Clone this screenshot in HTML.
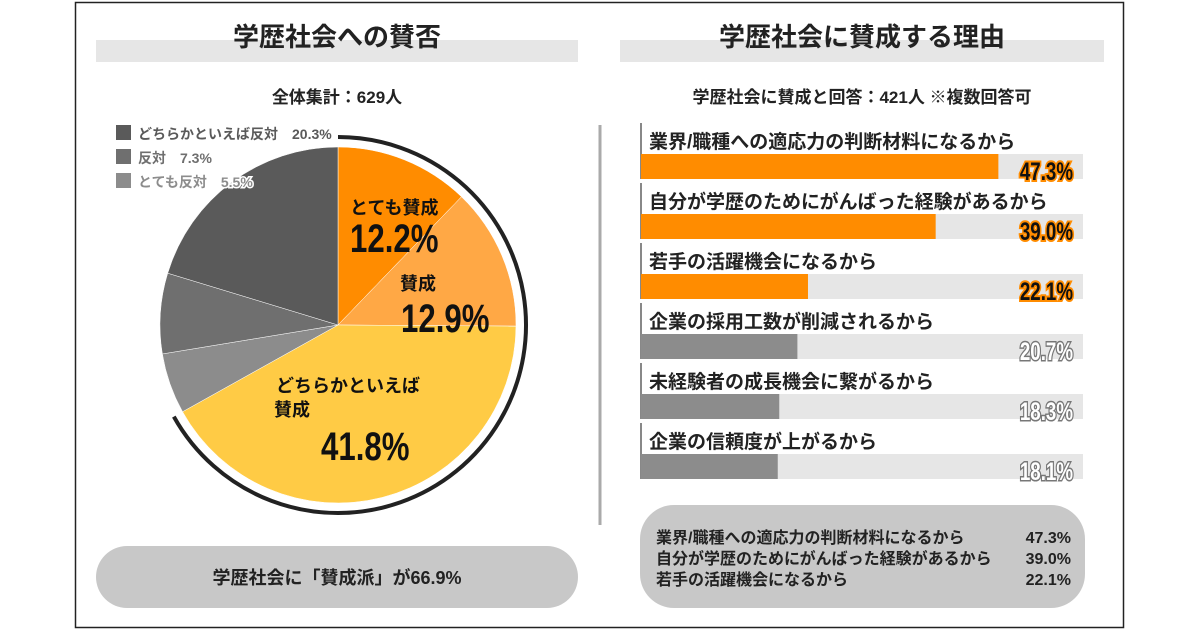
<!DOCTYPE html>
<html><head><meta charset="utf-8">
<style>
html,body{margin:0;padding:0;background:#fff;}
body{width:1200px;height:630px;overflow:hidden;font-family:"Liberation Sans","Noto Sans CJK JP",sans-serif;}
svg text{font-family:"Liberation Sans","Noto Sans CJK JP",sans-serif;}
</style></head><body>
<svg id="chart" width="1200" height="630" viewBox="0 0 1200 630" xmlns="http://www.w3.org/2000/svg">
<rect x="75.5" y="2.5" width="1048" height="625" fill="#fff" stroke="#222" stroke-width="1.5"/>
<rect x="96" y="40" width="482" height="22" fill="#e6e6e6"/>
<text x="337" y="46" text-anchor="middle" font-size="26" font-weight="bold" fill="#222">学歴社会への賛否</text>
<text x="337" y="103" text-anchor="middle" font-size="17" font-weight="bold" fill="#222">全体集計：629人</text>
<rect x="620" y="40" width="484" height="22" fill="#e6e6e6"/>
<text x="862" y="46" text-anchor="middle" font-size="26" font-weight="bold" fill="#222">学歴社会に賛成する理由</text>
<text x="862" y="103" text-anchor="middle" font-size="17" font-weight="bold" fill="#222">学歴社会に賛成と回答：421人 ※複数回答可</text>
<line x1="600" y1="125" x2="600" y2="525" stroke="#aaa" stroke-width="3"/>
<g id="pie"></g>
<g id="legend"></g>
<g id="bars"></g>
<rect x="96" y="546" width="482" height="62" rx="31" fill="#c8c8c8"/>
<text x="337" y="584" text-anchor="middle" font-size="18" font-weight="bold" fill="#222">学歴社会に「賛成派」が66.9%</text>
<rect x="640" y="505" width="445" height="103" rx="34" fill="#c8c8c8"/>
<g font-size="16" font-weight="bold" fill="#222">
<text x="656" y="543">業界/職種への適応力の判断材料になるから</text><text x="1071" y="543" text-anchor="end">47.3%</text>
<text x="656" y="564">自分が学歴のためにがんばった経験があるから</text><text x="1071" y="564" text-anchor="end">39.0%</text>
<text x="656" y="585">若手の活躍機会になるから</text><text x="1071" y="585" text-anchor="end">22.1%</text>
</g>
</svg>
<script>
const pieLabels=["とても賛成","賛成","どちらかといえば賛成","とても反対","反対","どちらかといえば反対"];
const pieValues=[12.2,12.9,41.8,5.5,7.3,20.3];
const barLabels=["業界/職種への適応力の判断材料になるから","自分が学歴のためにがんばった経験があるから","若手の活躍機会になるから","企業の採用工数が削減されるから","未経験者の成長機会に繋がるから","企業の信頼度が上がるから"];
const barValues=[47.3,39.0,22.1,20.7,18.3,18.1];

const NS="http://www.w3.org/2000/svg";
function mk(tag,attrs,parent,text){const e=document.createElementNS(NS,tag);for(const k in attrs)e.setAttribute(k,attrs[k]);if(text!==undefined)e.textContent=text;parent.appendChild(e);return e;}
const cx=338,cy=325,R=178;
const colors=["#ff8c00","#ffa845","#ffcb45","#8c8c8c","#6f6f6f","#5a5a5a"];
function pt(pct,r){const a=pct/100*2*Math.PI;return [cx+r*Math.sin(a),cy-r*Math.cos(a)];}
const pie=document.getElementById('pie');
let cum=0;
pieValues.forEach((v,i)=>{
  const [x1,y1]=pt(cum,R),[x2,y2]=pt(cum+v,R);
  const p=mk('path',{d:`M${cx},${cy}L${x1},${y1}A${R},${R} 0 ${v>50?1:0} 1 ${x2},${y2}Z`,fill:colors[i],stroke:'#fff','stroke-width':0.5},pie);
  
  
  cum+=v;
});
const favor=pieValues[0]+pieValues[1]+pieValues[2];
{const r=R+10;const [x1,y1]=pt(0,r),[x2,y2]=pt(favor,r);
 const a=mk('path',{d:`M${x1},${y1}A${r},${r} 0 ${favor>50?1:0} 1 ${x2},${y2}`,fill:'none',stroke:'#222','stroke-width':4},pie);
 
 }
function lbl(x,y,size,txt,name,cond){
 const t=mk('text',{x:0,y:0,'font-size':size,'font-weight':'bold',fill:'#111',transform:`translate(${x},${y}) scale(${cond?0.78:1},1)`},pie,txt);
 return t;}
lbl(350,214,18,pieLabels[0],'label-very-agree');
lbl(350,252,40,pieValues[0].toFixed(1)+'%','value-very-agree',true);
lbl(400,290,18,pieLabels[1],'label-agree');
lbl(401,332,40,pieValues[1].toFixed(1)+'%','value-agree',true);
lbl(276,392,18,'どちらかといえば','label-somewhat-agree-1');
lbl(274,416,18,'賛成','label-somewhat-agree-2');
lbl(321,460,40,pieValues[2].toFixed(1)+'%','value-somewhat-agree',true);
const legend=document.getElementById('legend');
[5,4,3].forEach((idx,j)=>{
  const y=130+j*24;
  const r=mk('rect',{x:116,y:y-5,width:15,height:15,fill:colors[idx]},legend);
  
  
  const t=mk('text',{x:138,y:y+9,'font-size':14,'font-weight':'bold',fill:colors[idx],stroke:'#fff','stroke-width':3,'paint-order':'stroke'},legend,pieLabels[idx]+'　'+pieValues[idx].toFixed(1)+'%');
  
  
});
const bars=document.getElementById('bars');
const bx=641,bw=442,maxV=58.5;
function xs(v){return v/maxV*bw;}
barValues.forEach((v,i)=>{
  const top=123+i*60;
  const hi=i<3;
  const l=mk('line',{x1:bx,y1:top,x2:bx,y2:top+56,stroke:'#888','stroke-width':2},bars);
  
  
  const t=mk('text',{x:bx+8,y:top+25,'font-size':19,'font-weight':'bold',fill:'#222'},bars,barLabels[i]);
  
  
  const tr=mk('rect',{x:bx,y:top+31,width:bw,height:25,fill:'#e6e6e6'},bars);
  
  
  const b=mk('rect',{x:bx,y:top+31,width:xs(v),height:25,fill:hi?'#ff8c00':'#8c8c8c'},bars);
  
  
  const vt=mk('text',{x:0,y:0,'text-anchor':'end','font-size':25,'font-weight':'bold',fill:hi?'#111':'#fff',stroke:hi?'#ff8c00':'#777','stroke-width':hi?4:3,'paint-order':'stroke',transform:`translate(1073,${top+57}) scale(0.75,1)`},bars,v.toFixed(1)+'%');
  
  
});
</script>
</body></html>
